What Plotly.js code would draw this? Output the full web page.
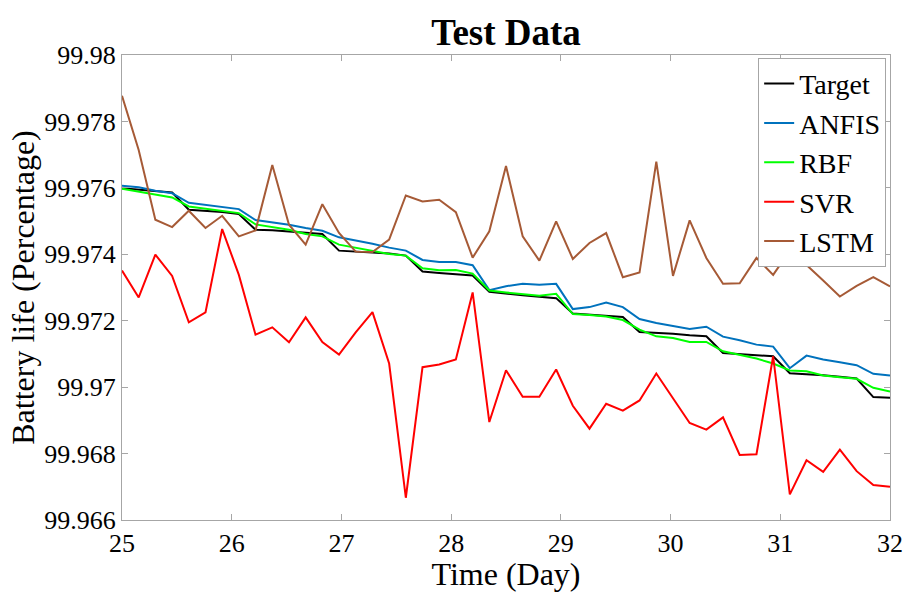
<!DOCTYPE html>
<html>
<head>
<meta charset="utf-8">
<script src="https://cdn.plot.ly/plotly-3.0.1.min.js"></script>
<style>html,body{margin:0;padding:0;background:#fff;}#chart{width:905px;height:592px;}</style>
</head>
<body>
<div id="chart"></div>
<script>
const time = [25, 25.152, 25.304, 25.457, 25.609, 25.761, 25.913, 26.065, 26.217, 26.370,
  26.522, 26.674, 26.826, 26.978, 27.130, 27.283, 27.435, 27.587, 27.739, 27.891,
  28.043, 28.196, 28.348, 28.500, 28.652, 28.804, 28.957, 29.109, 29.261, 29.413,
  29.565, 29.717, 29.870, 30.022, 30.174, 30.326, 30.478, 30.630, 30.783, 30.935,
  31.087, 31.239, 31.391, 31.543, 31.696, 31.848, 32];

const target = [99.97599, 99.97594, 99.97589, 99.97586, 99.97534, 99.97531, 99.97527, 99.97521, 99.97474, 99.97472,
  99.97468, 99.97464, 99.97461, 99.97411, 99.97408, 99.97405, 99.97402, 99.97396, 99.97348, 99.97344,
  99.97341, 99.97336, 99.97287, 99.97281, 99.97277, 99.97272, 99.97268, 99.97222, 99.97218, 99.97215,
  99.97211, 99.97166, 99.97164, 99.97161, 99.97156, 99.97153, 99.97103, 99.97099, 99.97096, 99.97093,
  99.97042, 99.97040, 99.97036, 99.97031, 99.97026, 99.96970, 99.96968];

const anfis = [99.97606, 99.97602, 99.97591, 99.97584, 99.97555, 99.97549, 99.97543, 99.97536, 99.97503, 99.97496,
  99.97489, 99.97479, 99.97471, 99.97451, 99.97442, 99.97432, 99.97420, 99.97411, 99.97383, 99.97377,
  99.97377, 99.97367, 99.97292, 99.97304, 99.97311, 99.97308, 99.97311, 99.97235, 99.97241, 99.97255,
  99.97241, 99.97205, 99.97193, 99.97185, 99.97175, 99.97182, 99.97152, 99.97141, 99.97128, 99.97122,
  99.97057, 99.97095, 99.97083, 99.97075, 99.97066, 99.97040, 99.97035];

const rbf = [99.97597, 99.97589, 99.97581, 99.97571, 99.97544, 99.97537, 99.97531, 99.97524, 99.97490, 99.97483,
  99.97474, 99.97461, 99.97454, 99.97429, 99.97419, 99.97409, 99.97401, 99.97396, 99.97358, 99.97352,
  99.97353, 99.97342, 99.97291, 99.97285, 99.97279, 99.97275, 99.97281, 99.97220, 99.97217, 99.97213,
  99.97202, 99.97173, 99.97153, 99.97148, 99.97136, 99.97136, 99.97108, 99.97098, 99.97086, 99.97071,
  99.97050, 99.97048, 99.97035, 99.97030, 99.97025, 99.96998, 99.96987];

const svr = [99.97351, 99.97270, 99.97399, 99.97335, 99.97195, 99.97225, 99.97476, 99.97338, 99.97158, 99.97180,
  99.97135, 99.97210, 99.97136, 99.97098, 99.97165, 99.97226, 99.97071, 99.96667, 99.97060, 99.97068,
  99.97083, 99.97285, 99.96895, 99.97051, 99.96971, 99.96971, 99.97053, 99.96944, 99.96875, 99.96950,
  99.96929, 99.96960, 99.97041, 99.96965, 99.96892, 99.96872, 99.96909, 99.96796, 99.96798, 99.97093,
  99.96677, 99.96780, 99.96745, 99.96812, 99.96747, 99.96705, 99.96700];

const lstm = [99.97877, 99.97714, 99.97504, 99.97482, 99.97531, 99.97479, 99.97516, 99.97454, 99.97472, 99.97669,
  99.97489, 99.97429, 99.97551, 99.97464, 99.97408, 99.97407, 99.97444, 99.97577, 99.97559, 99.97564,
  99.97527, 99.97390, 99.97469, 99.97666, 99.97454, 99.97381, 99.97499, 99.97386, 99.97434, 99.97464,
  99.97331, 99.97345, 99.97679, 99.97335, 99.97502, 99.97389, 99.97311, 99.97313, 99.97389, 99.97338,
  99.97411, 99.97368, 99.97321, 99.97273, 99.97305, 99.97331, 99.97303];

const xTicks = [25, 26, 27, 28, 29, 30, 31, 32];
const yTicks = [99.966, 99.968, 99.97, 99.972, 99.974, 99.976, 99.978, 99.98];
const yTickText = ['99.966', '99.968', '99.97', '99.972', '99.974', '99.976', '99.978', '99.98'];

const seriesNames = ['Target', 'ANFIS', 'RBF', 'SVR', 'LSTM'];
const seriesData = [target, anfis, rbf, svr, lstm];
const seriesColors = ['#000000', '#0072BD', '#00FF00', '#FF0000', '#A65A36'];

const FONT = '"Liberation Serif", "Times New Roman", serif';

const traces = seriesNames.map((name, i) => ({
  x: time,
  y: seriesData[i],
  name: name,
  type: 'scatter',
  mode: 'lines',
  line: {color: seriesColors[i], width: 2}
}));

const axisCommon = {
  showgrid: false,
  zeroline: false,
  showline: true,
  linecolor: '#a6a6a6',
  linewidth: 1,
  mirror: 'ticks',
  ticks: 'inside',
  ticklen: 6,
  tickcolor: '#a6a6a6',
  tickfont: {family: FONT, size: 26, color: '#000'}
};

const layout = {
  width: 905,
  height: 592,
  margin: {l: 122, r: 15, t: 55, b: 72},
  paper_bgcolor: '#fff',
  plot_bgcolor: '#fff',
  font: {family: FONT, color: '#000'},
  title: {text: '<b>Test Data</b>', font: {family: FONT, size: 37, color: '#000'}, x: 0.5, xref: 'paper', xanchor: 'center', y: 0.946, yref: 'container', yanchor: 'middle'},
  xaxis: Object.assign({}, axisCommon, {
    range: [25, 32],
    tickvals: xTicks,
    ticktext: xTicks.map(String),
    title: {text: 'Time (Day)', font: {family: FONT, size: 32, color: '#000'}, standoff: 2}
  }),
  yaxis: Object.assign({}, axisCommon, {
    range: [99.966, 99.98],
    tickvals: yTicks,
    ticktext: yTickText,
    title: {text: 'Battery life (Percentage)', font: {family: FONT, size: 32, color: '#000'}, standoff: 0}
  }),
  legend: {
    x: 0.995, y: 0.994, xanchor: 'right', yanchor: 'top',
    bgcolor: '#fff', bordercolor: '#a6a6a6', borderwidth: 1,
    font: {family: FONT, size: 28, color: '#000'},
    itemwidth: 30,
    tracegroupgap: 0
  },
  showlegend: true
};

Plotly.newPlot('chart', traces, layout, {displayModeBar: false, staticPlot: true});
</script>
</body>
</html>
